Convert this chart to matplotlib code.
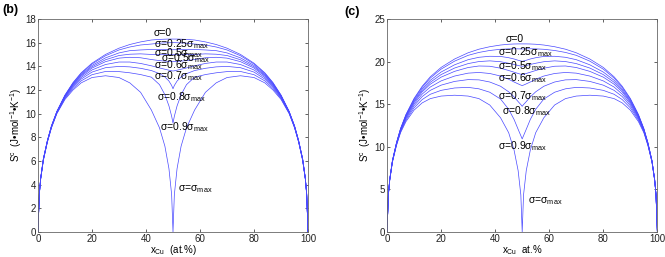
import matplotlib
matplotlib.use("Agg")
import matplotlib.pyplot as plt

plt.rcParams['font.family'] = ['Liberation Sans', 'DejaVu Sans']
plt.rcParams['mathtext.fontset'] = 'custom'
plt.rcParams['mathtext.rm'] = 'Liberation Sans'
plt.rcParams['mathtext.it'] = 'Liberation Sans:italic'
plt.rcParams['mathtext.default'] = 'regular'

# composition grid (at.% Cu)
x_cu = [0, 0.5, 1, 2, 3.5, 5, 7, 10, 13, 16, 20, 25, 30, 34, 38, 42, 45, 47, 48.5, 49.5, 50,
        50.5, 51.5, 53, 55, 58, 62, 66, 70, 75, 80, 84, 87, 90, 93, 95, 96.5, 98, 99, 99.5, 100]

# panel (b) configurational entropy curves
b_s0 = [0, 3.26, 4.56, 6.19, 7.74, 8.97, 10.19, 11.57, 12.63, 13.45, 14.26, 15.0, 15.53, 15.84, 16.06, 16.22, 16.27, 16.29, 16.3, 16.3, 16.3,
        16.3, 16.3, 16.29, 16.27, 16.22, 16.06, 15.84, 15.53, 15.0, 14.26, 13.45, 12.63, 11.57, 10.19, 8.97, 7.74, 6.19, 4.56, 3.26, 0]
b_s1 = [0, 3.25, 4.55, 6.18, 7.73, 8.96, 10.18, 11.55, 12.59, 13.40, 14.19, 14.89, 15.38, 15.63, 15.8, 15.88, 15.95, 15.98, 15.99, 16.0, 16.0,
        16.0, 15.99, 15.98, 15.95, 15.88, 15.8, 15.63, 15.38, 14.89, 14.19, 13.40, 12.59, 11.55, 10.18, 8.96, 7.73, 6.18, 4.55, 3.25, 0]
b_s2 = [0, 3.24, 4.54, 6.17, 7.72, 8.94, 10.16, 11.51, 12.53, 13.31, 14.07, 14.71, 15.13, 15.32, 15.38, 15.42, 15.42, 15.41, 15.4, 15.4, 15.4,
        15.4, 15.4, 15.41, 15.42, 15.42, 15.38, 15.32, 15.13, 14.71, 14.07, 13.31, 12.53, 11.51, 10.16, 8.94, 7.72, 6.17, 4.54, 3.24, 0]
b_s3 = [0, 3.23, 4.53, 6.16, 7.70, 8.93, 10.14, 11.48, 12.47, 13.24, 13.96, 14.55, 14.91, 15.02, 15.05, 15.0, 14.98, 14.98, 14.98, 14.98, 14.98,
        14.98, 14.98, 14.98, 14.98, 15.0, 15.05, 15.02, 14.91, 14.55, 13.96, 13.24, 12.47, 11.48, 10.14, 8.93, 7.70, 6.16, 4.53, 3.23, 0]
b_s4 = [0, 3.22, 4.52, 6.14, 7.69, 8.91, 10.13, 11.44, 12.42, 13.16, 13.85, 14.39, 14.69, 14.76, 14.72, 14.57, 14.48, 14.44, 14.41, 14.4, 14.4,
        14.4, 14.41, 14.44, 14.48, 14.57, 14.72, 14.76, 14.69, 14.39, 13.85, 13.16, 12.42, 11.44, 10.13, 8.91, 7.69, 6.14, 4.52, 3.22, 0]
b_s5 = [0, 3.21, 4.51, 6.12, 7.67, 8.89, 10.10, 11.40, 12.33, 13.05, 13.69, 14.15, 14.36, 14.36, 14.24, 14.04, 13.86, 13.75, 13.67, 13.62, 13.6,
        13.62, 13.67, 13.75, 13.86, 14.04, 14.24, 14.36, 14.36, 14.15, 13.69, 13.05, 12.33, 11.40, 10.10, 8.89, 7.67, 6.12, 4.51, 3.21, 0]
b_s6 = [0, 3.19, 4.49, 6.10, 7.65, 8.86, 10.07, 11.34, 12.24, 12.92, 13.51, 13.88, 13.99, 13.95, 13.83, 13.64, 13.38, 13.1, 12.75, 12.38, 12.1,
        12.38, 12.75, 13.1, 13.38, 13.64, 13.83, 13.95, 13.99, 13.88, 13.51, 12.92, 12.24, 11.34, 10.07, 8.86, 7.65, 6.10, 4.49, 3.19, 0]
b_s7 = [0, 3.17, 4.47, 6.08, 7.63, 8.83, 10.04, 11.27, 12.13, 12.77, 13.29, 13.56, 13.55, 13.45, 13.3, 13.08, 12.45, 11.6, 10.65, 9.78, 9.2,
        9.78, 10.65, 11.6, 12.45, 13.08, 13.3, 13.45, 13.55, 13.56, 13.29, 12.77, 12.13, 11.27, 10.04, 8.83, 7.63, 6.08, 4.47, 3.17, 0]
b_s8 = [0, 3.15, 4.45, 6.05, 7.6, 8.8, 10.0, 11.2, 12.0, 12.6, 13.05, 13.2, 13.05, 12.6, 11.8, 10.3, 8.8, 7.25, 5.35, 3.15, 0,
        3.15, 5.35, 7.25, 8.8, 10.3, 11.8, 12.6, 13.05, 13.2, 13.05, 12.6, 12.0, 11.2, 10.0, 8.8, 7.6, 6.05, 4.45, 3.15, 0]

# panel (c)
c_s0 = [0, 4.41, 6.18, 8.39, 10.48, 12.14, 13.79, 15.67, 17.1, 18.21, 19.31, 20.3, 21.03, 21.45, 21.74, 21.94, 22.03, 22.06, 22.07, 22.07, 22.07,
        22.07, 22.07, 22.06, 22.03, 21.94, 21.74, 21.45, 21.03, 20.3, 19.31, 18.21, 17.1, 15.67, 13.79, 12.14, 10.48, 8.39, 6.18, 4.41, 0]
c_s1 = [0, 4.41, 6.18, 8.38, 10.47, 12.11, 13.74, 15.59, 16.98, 18.06, 19.11, 20.05, 20.73, 21.07, 21.3, 21.44, 21.49, 21.5, 21.49, 21.48, 21.48,
        21.48, 21.49, 21.5, 21.49, 21.44, 21.3, 21.07, 20.73, 20.05, 19.11, 18.06, 16.98, 15.59, 13.74, 12.11, 10.47, 8.38, 6.18, 4.41, 0]
c_s2 = [0, 4.4, 6.17, 8.36, 10.43, 12.06, 13.66, 15.45, 16.79, 17.8, 18.77, 19.62, 20.22, 20.5, 20.62, 20.6, 20.45, 20.3, 20.15, 20.07, 20.03,
        20.07, 20.15, 20.3, 20.45, 20.6, 20.62, 20.5, 20.22, 19.62, 18.77, 17.8, 16.79, 15.45, 13.66, 12.06, 10.43, 8.36, 6.17, 4.4, 0]
c_s3 = [0, 4.39, 6.15, 8.34, 10.4, 12.02, 13.58, 15.33, 16.61, 17.57, 18.47, 19.24, 19.76, 20.0, 20.08, 19.98, 19.8, 19.66, 19.54, 19.47, 19.44,
        19.47, 19.54, 19.66, 19.8, 19.98, 20.08, 20.0, 19.76, 19.24, 18.47, 17.57, 16.61, 15.33, 13.58, 12.02, 10.4, 8.34, 6.15, 4.39, 0]
c_s4 = [0, 4.39, 6.14, 8.32, 10.37, 11.97, 13.5, 15.2, 16.44, 17.34, 18.17, 18.85, 19.3, 19.48, 19.45, 19.22, 18.95, 18.75, 18.6, 18.51, 18.47,
        18.51, 18.6, 18.75, 18.95, 19.22, 19.45, 19.48, 19.3, 18.85, 18.17, 17.34, 16.44, 15.2, 13.5, 11.97, 10.37, 8.32, 6.14, 4.39, 0]
c_s5 = [0, 4.38, 6.12, 8.3, 10.33, 11.91, 13.4, 15.03, 16.18, 17.01, 17.73, 18.3, 18.64, 18.72, 18.6, 18.3, 17.92, 17.6, 17.38, 17.24, 17.18,
        17.24, 17.38, 17.6, 17.92, 18.3, 18.6, 18.72, 18.64, 18.3, 17.73, 17.01, 16.18, 15.03, 13.4, 11.91, 10.33, 8.3, 6.12, 4.38, 0]
c_s6 = [0, 4.38, 6.11, 8.27, 10.28, 11.84, 13.27, 14.82, 15.89, 16.62, 17.23, 17.67, 17.88, 17.85, 17.6, 17.1, 16.45, 15.85, 15.3, 14.95, 14.75,
        14.95, 15.3, 15.85, 16.45, 17.1, 17.6, 17.85, 17.88, 17.67, 17.23, 16.62, 15.89, 14.82, 13.27, 11.84, 10.28, 8.27, 6.11, 4.38, 0]
c_s7 = [0, 4.36, 6.08, 8.24, 10.22, 11.75, 13.12, 14.57, 15.54, 16.16, 16.62, 16.9, 16.97, 16.8, 16.4, 15.6, 14.4, 13.2, 12.05, 11.3, 10.92,
        11.3, 12.05, 13.2, 14.4, 15.6, 16.4, 16.8, 16.97, 16.9, 16.62, 16.16, 15.54, 14.57, 13.12, 11.75, 10.22, 8.24, 6.08, 4.36, 0]
c_s8 = [0, 4.35, 6.05, 8.2, 10.15, 11.65, 12.95, 14.3, 15.15, 15.65, 15.95, 16.05, 15.95, 15.65, 14.9, 13.4, 11.65, 9.6, 7.2, 4.35, 0,
        4.35, 7.2, 9.6, 11.65, 13.4, 14.9, 15.65, 15.95, 16.05, 15.95, 15.65, 15.15, 14.3, 12.95, 11.65, 10.15, 8.2, 6.05, 4.35, 0]

b_curves = [b_s0, b_s1, b_s2, b_s3, b_s4, b_s5, b_s6, b_s7, b_s8]
c_curves = [c_s0, c_s1, c_s2, c_s3, c_s4, c_s5, c_s6, c_s7, c_s8]

b_labels = ['σ=0', 'σ=0.25σ$_{max}$', 'σ=0.5σ$_{max}$', 'σ=0.5σ$_{max}$', 'σ=0.6σ$_{max}$',
            'σ=0.7σ$_{max}$', 'σ=0.8σ$_{max}$', 'σ=0.9σ$_{max}$', 'σ=σ$_{max}$']
b_label_pos = [(42.8, 16.8), (42.8, 15.9), (42.8, 15.1), (45.7, 14.65), (42.8, 14.1),
               (42.8, 13.2), (44.1, 11.4), (45.1, 8.9), (51.9, 3.6)]
c_labels = ['σ=0', 'σ=0.25σ$_{max}$', 'σ=0.5σ$_{max}$', 'σ=0.6σ$_{max}$',
            'σ=0.7σ$_{max}$', 'σ=0.8σ$_{max}$', 'σ=0.9σ$_{max}$', 'σ=σ$_{max}$']
c_label_pos = [(43.9, 22.65), (40.9, 21.1), (41.2, 19.5), (40.9, 18.1),
               (40.9, 15.9), (42.7, 14.2), (40.9, 10.05), (52.1, 3.6)]

line_color = '#4848ff'
spine_color = '#666666'

fig = plt.figure(figsize=(6.65, 2.57), dpi=100)
ax_b = fig.add_axes([0.0571, 0.0973, 0.4061, 0.829])
ax_c = fig.add_axes([0.582, 0.0973, 0.4065, 0.829])


def style(ax, ymax, ystep, xlabel):
    ax.set_xlim(0, 100)
    ax.set_ylim(0, ymax)
    ax.set_xticks(range(0, 101, 20))
    ax.set_yticks(range(0, ymax + 1, ystep))
    ax.tick_params(direction='in', length=2.5, width=0.5, labelsize=7,
                   top=True, right=True, pad=1.5, colors='#222222')
    for s in ax.spines.values():
        s.set_color(spine_color)
        s.set_linewidth(0.6)
    ax.set_ylabel('S$^{c}$  (J•mol$^{-1}$•K$^{-1}$)', fontsize=7, labelpad=1)
    ax.set_xlabel(xlabel, fontsize=7, labelpad=-0.5)


for ys in b_curves:
    ax_b.plot(x_cu, ys, color=line_color, lw=0.5)
for ys in c_curves:
    ax_c.plot(x_cu, ys, color=line_color, lw=0.5)

for t, (px, py) in zip(b_labels, b_label_pos):
    ax_b.text(px, py, t, fontsize=7.5, ha='left', va='center')
for t, (px, py) in zip(c_labels, c_label_pos):
    ax_c.text(px, py, t, fontsize=7.5, ha='left', va='center')

style(ax_b, 18, 2, 'x$_{Cu}$  (at.%)')
style(ax_c, 25, 5, 'x$_{Cu}$  at.%')

fig.text(0.003, 0.962, '(b)', fontsize=9, fontweight='bold', va='center')
fig.text(0.518, 0.955, '(c)', fontsize=9, fontweight='bold', va='center')

fig.savefig('out.png', dpi=100)
